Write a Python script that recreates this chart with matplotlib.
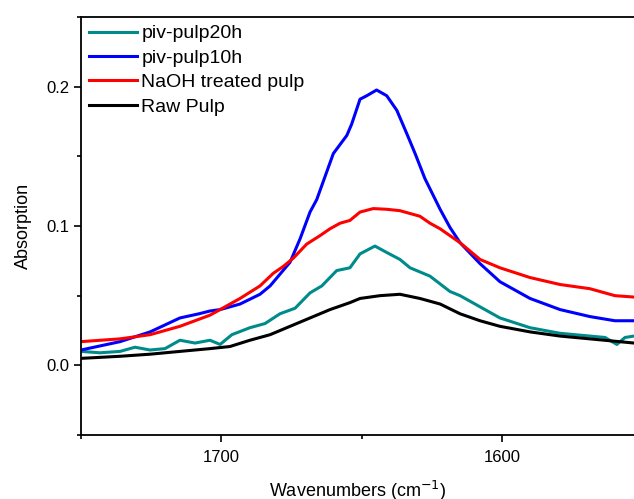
import numpy as np
import matplotlib.pyplot as plt
from matplotlib.ticker import MultipleLocator

plt.rcParams['font.family'] = ['Liberation Sans', 'DejaVu Sans']

# Data (wavenumber in cm-1, absorption)
wn_teal = [1750, 1743.2, 1736.1, 1730.8, 1725.4, 1720.1, 1714.8, 1709.4, 1704.1, 1700.5,
           1696.3, 1689.9, 1684.5, 1679.2, 1673.8, 1668.5, 1664.3, 1659.0, 1654.3, 1650.7,
           1645.4, 1641.2, 1636.5, 1632.9, 1625.8, 1618.7, 1615.1, 1608.0, 1600.9, 1590.2,
           1579.5, 1568.9, 1563.5, 1559.3, 1556.4, 1553.2]
piv20 = [0.010, 0.009, 0.010, 0.013, 0.011, 0.012, 0.018, 0.016, 0.018, 0.015,
         0.022, 0.027, 0.030, 0.037, 0.041, 0.052, 0.057, 0.068, 0.070, 0.080,
         0.0856, 0.081, 0.076, 0.070, 0.064, 0.053, 0.050, 0.042, 0.034, 0.027,
         0.023, 0.021, 0.020, 0.015, 0.020, 0.021]

wn_blue = [1750, 1736.1, 1725.4, 1714.8, 1708.0, 1704.1, 1700.5, 1693.4, 1686.3, 1682.7,
           1675.6, 1672.0, 1668.5, 1666.1, 1660.2, 1655.4, 1653.7, 1650.7, 1648.3, 1644.8,
           1641.2, 1637.6, 1634.0, 1631.1, 1627.6, 1622.2, 1618.7, 1615.1, 1608.0, 1600.9,
           1590.2, 1579.5, 1568.9, 1560.0, 1553.2]
piv10 = [0.011, 0.017, 0.024, 0.034, 0.037, 0.039, 0.040, 0.044, 0.051, 0.057,
         0.074, 0.091, 0.110, 0.119, 0.152, 0.165, 0.173, 0.191, 0.1935, 0.1976,
         0.1935, 0.183, 0.166, 0.152, 0.134, 0.112, 0.099, 0.088, 0.073, 0.060,
         0.048, 0.040, 0.035, 0.032, 0.032]

wn_red = [1750, 1736.1, 1725.4, 1714.8, 1704.1, 1700.5, 1693.4, 1686.3, 1681.6, 1678.0,
          1674.4, 1669.7, 1665.0, 1661.4, 1657.8, 1654.3, 1650.7, 1646.0, 1641.2, 1636.5,
          1629.4, 1625.8, 1622.2, 1615.1, 1608.0, 1600.9, 1590.2, 1579.5, 1568.9, 1560.0,
          1553.2]
naoh = [0.017, 0.019, 0.022, 0.028, 0.036, 0.040, 0.048, 0.057, 0.066, 0.071,
        0.077, 0.087, 0.093, 0.098, 0.102, 0.104, 0.110, 0.1125, 0.112, 0.111,
        0.107, 0.102, 0.098, 0.088, 0.076, 0.070, 0.063, 0.058, 0.055, 0.050,
        0.049]

wn_black = [1750, 1736.1, 1725.4, 1714.8, 1704.1, 1697.0, 1689.9, 1682.7, 1675.6, 1668.5,
            1661.4, 1654.3, 1650.7, 1643.6, 1636.5, 1629.4, 1622.2, 1615.1, 1608.0, 1600.9,
            1590.2, 1579.5, 1568.9, 1553.2]
raw = [0.005, 0.0065, 0.008, 0.010, 0.012, 0.0135, 0.018, 0.022, 0.028, 0.034,
       0.040, 0.045, 0.048, 0.050, 0.051, 0.048, 0.044, 0.037, 0.032, 0.028,
       0.024, 0.021, 0.019, 0.016]

fig = plt.figure(figsize=(6.34, 4.99), dpi=100)
ax = fig.add_axes([81 / 634, 1 - 435 / 499, 1 - 81 / 634, (435 - 17) / 499])

ax.plot(wn_teal, piv20, color='#008b8b', lw=2.2, label='piv-pulp20h')
ax.plot(wn_blue, piv10, color='#0000ff', lw=2.2, label='piv-pulp10h')
ax.plot(wn_red, naoh, color='#ff0000', lw=2.2, label='NaOH treated pulp')
ax.plot(wn_black, raw, color='black', lw=2.2, label='Raw Pulp')

ax.set_xlim(1750, 1553.2)
ax.set_ylim(-0.05, 0.25)
ax.xaxis.set_major_locator(MultipleLocator(100))
ax.xaxis.set_minor_locator(MultipleLocator(50))
ax.yaxis.set_major_locator(MultipleLocator(0.1))
ax.yaxis.set_minor_locator(MultipleLocator(0.05))
ax.yaxis.set_major_formatter(plt.FormatStrFormatter('%.1f'))
ax.tick_params(which='major', direction='out', length=5, width=1.2, labelsize=12)
ax.tick_params(axis='x', which='major', pad=6)
ax.tick_params(which='minor', direction='out', length=3, width=1.2)
ax.spines['right'].set_visible(False)
for s in ['left', 'bottom', 'top']:
    ax.spines[s].set_linewidth(1.3)

ax.set_xlabel('Wavenumbers (cm$^{-1}$)', fontsize=13, labelpad=10)
ax.set_ylabel('Absorption', fontsize=13, labelpad=10)

ax.legend(loc='upper left', frameon=False, fontsize=14, handlelength=2.5,
          handletextpad=0.2, labelspacing=0.35, borderaxespad=0.0,
          bbox_to_anchor=(0.0, 1.0))

fig.savefig('out.png', dpi=100)
